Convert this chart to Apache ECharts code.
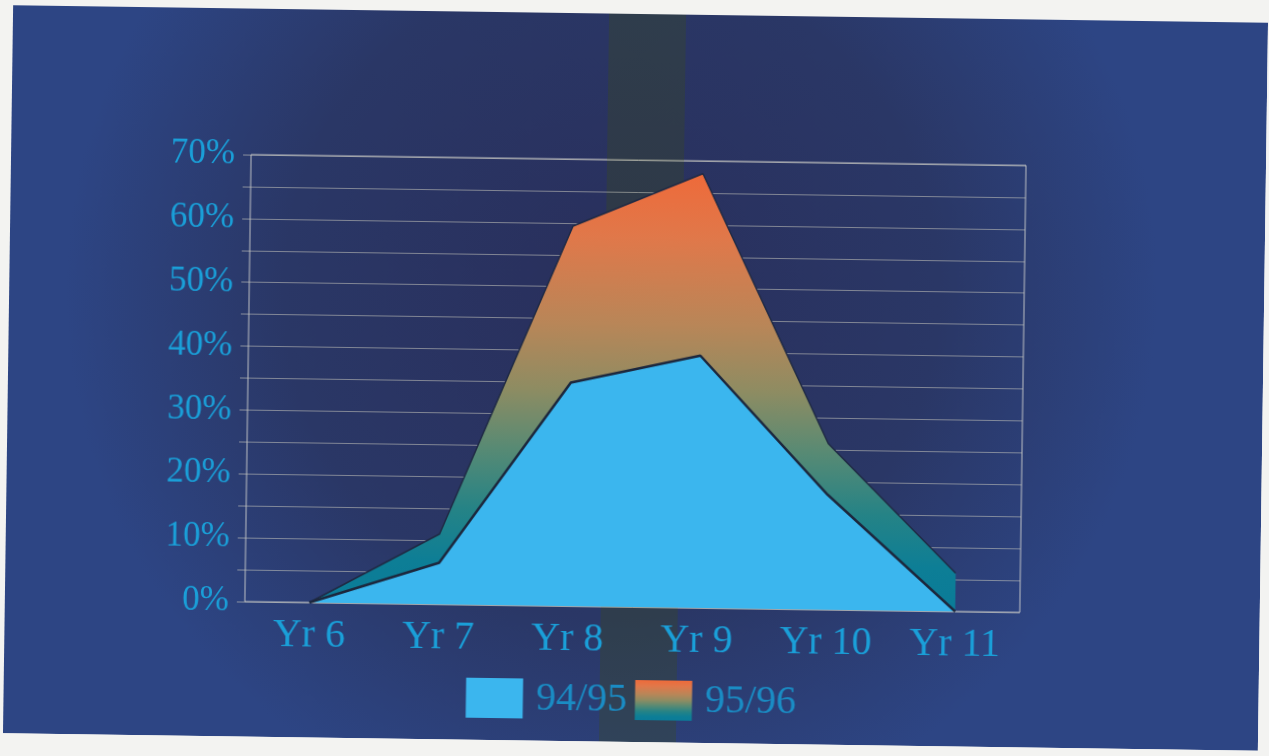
<!DOCTYPE html>
<html>
<head>
<meta charset="utf-8">
<script src="https://cdn.jsdelivr.net/npm/echarts@6/dist/echarts.min.js"></script>
<style>
  html, body { margin: 0; padding: 0; background: #f3f3f1; overflow: hidden; width: 1269px; height: 756px; }
  #chart { position: absolute; left: 8px; top: 14px; width: 1255px; height: 728px;
           transform: rotate(0.8deg); transform-origin: 50% 50%; }
</style>
</head>
<body>
<div id="chart"></div>
<script>
const categories = ['Yr 6', 'Yr 7', 'Yr 8', 'Yr 9', 'Yr 10', 'Yr 11'];
const seriesNames = ['94/95', '95/96'];
const values9495 = [0, 6.5, 35, 39.5, 18, 0];
const values9596 = [0, 11, 59.5, 68, 26, 6];
const yTicks = [0, 10, 20, 30, 40, 50, 60, 70];

const serif = '"Liberation Serif", "DejaVu Serif", serif';
const labelColor = '#1a9fd8';

function warmGradient() {
  return new echarts.graphic.LinearGradient(0, 0, 0, 1, [
    { offset: 0.00, color: '#ee6a3a' },
    { offset: 0.15, color: '#e0784a' },
    { offset: 0.35, color: '#b88658' },
    { offset: 0.50, color: '#8e8c62' },
    { offset: 0.64, color: '#578a74' },
    { offset: 0.78, color: '#258386' },
    { offset: 0.90, color: '#0d7e96' },
    { offset: 1.00, color: '#0a7b98' }
  ]);
}

const chart = echarts.init(document.getElementById('chart'), null, { renderer: 'canvas' });
chart.setOption({
  animation: false,
  backgroundColor: new echarts.graphic.RadialGradient(0.48, 0.38, 0.75, [
    { offset: 0, color: '#292f5c' },
    { offset: 0.6, color: '#2a3766' },
    { offset: 1, color: '#2d4584' }
  ]),
  graphic: [{
    type: 'rect', z: 0, silent: true,
    shape: { x: 596, y: 0, width: 77, height: 728 },
    style: { fill: 'rgba(62,78,16,0.28)' }
  }],
  grid: {
    left: 240, right: 240, top: 146, height: 447,
    show: true, borderColor: 'rgba(215,215,210,0.85)', borderWidth: 1,
    backgroundColor: 'transparent'
  },
  legend: {
    data: [
      { name: seriesNames[0], itemStyle: { color: '#3bb6ee', borderWidth: 0 } },
      { name: seriesNames[1], itemStyle: { color: warmGradient(), borderWidth: 0 } }
    ],
    icon: 'rect',
    left: 'center',
    top: 661,
    itemWidth: 57,
    itemHeight: 40,
    itemGap: 8,
    textStyle: { color: '#1a8cc4', fontFamily: serif, fontSize: 40, padding: [0, 0, 0, 8] }
  },
  xAxis: {
    type: 'category',
    data: categories,
    boundaryGap: true,
    axisLine: { show: false },
    axisTick: { show: false },
    axisLabel: { color: labelColor, fontFamily: serif, fontSize: 40, margin: 13 }
  },
  yAxis: {
    type: 'value',
    min: yTicks[0],
    max: yTicks[yTicks.length - 1],
    interval: 10,
    axisLine: { show: false },
    axisTick: { show: true, length: 8, lineStyle: { color: 'rgba(200,200,190,0.6)' } },
    minorTick: { show: true, splitNumber: 2, length: 8, lineStyle: { color: 'rgba(200,200,190,0.6)' } },
    splitLine: { show: true, lineStyle: { color: 'rgba(200,200,190,0.55)', width: 1 } },
    minorSplitLine: { show: true, lineStyle: { color: 'rgba(200,200,190,0.55)', width: 1 } },
    axisLabel: { color: labelColor, fontFamily: serif, fontSize: 35, margin: 16,
                 formatter: v => v + '%' }
  },
  series: [
    {
      name: seriesNames[1],
      type: 'line',
      data: values9596,
      z: 2,
      showSymbol: false,
      symbol: 'none',
      lineStyle: { color: '#1f2a44', width: 1.5 },
      itemStyle: { color: warmGradient() },
      areaStyle: { color: warmGradient(), opacity: 1 }
    },
    {
      name: seriesNames[0],
      type: 'line',
      data: values9495,
      z: 3,
      showSymbol: false,
      symbol: 'none',
      lineStyle: { color: '#1c273d', width: 2.5 },
      itemStyle: { color: '#3bb6ee' },
      areaStyle: { color: '#3bb6ee', opacity: 1 }
    }
  ]
});
</script>
</body>
</html>
